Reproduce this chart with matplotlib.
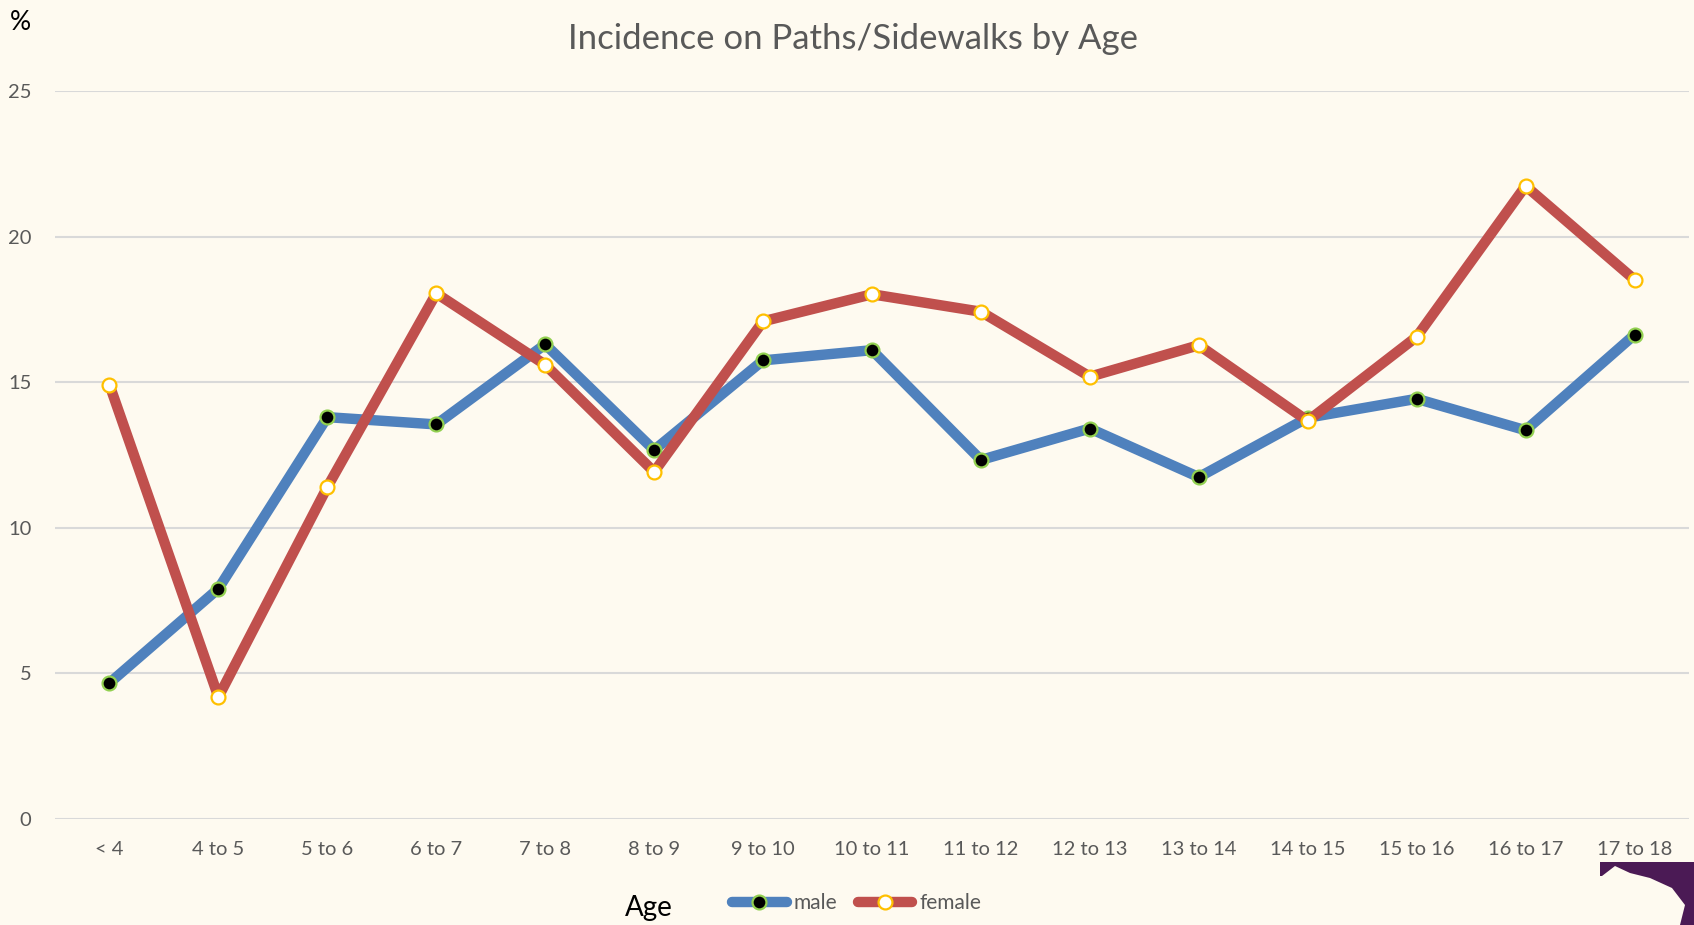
import matplotlib
matplotlib.use("Agg")
import matplotlib.pyplot as plt
from matplotlib.lines import Line2D
from matplotlib.patches import Polygon

categories = ["< 4", "4 to 5", "5 to 6", "6 to 7", "7 to 8", "8 to 9", "9 to 10",
              "10 to 11", "11 to 12", "12 to 13", "13 to 14", "14 to 15",
              "15 to 16", "16 to 17", "17 to 18"]
male = [4.67, 7.91, 13.8, 13.55, 16.3, 12.67, 15.75, 16.1, 12.33, 13.41,
        11.74, 13.78, 14.43, 13.35, 16.63]
female = [14.91, 4.19, 11.4, 18.05, 15.6, 11.92, 17.09, 18.02, 17.42, 15.19,
          16.27, 13.67, 16.56, 21.74, 18.52]
yticks = [0, 5, 10, 15, 20, 25]

BG = "#FEFAF0"
BLUE = "#4F81BD"
RED = "#C0504D"
GRAY = "#595959"
FONT = ["Lato", "DejaVu Sans"]
plt.rcParams["font.family"] = FONT

fig = plt.figure(figsize=(16.94, 9.25), dpi=100, facecolor=BG)
ax = fig.add_axes([55/1694, 1-819/925, (1689-55)/1694, (819-91)/925])
ax.set_facecolor(BG)

x = list(range(len(categories)))
ax.plot(x, male, color=BLUE, lw=7.5, solid_joinstyle="round", solid_capstyle="round", zorder=3,
        marker="o", ms=10, mfc="black", mec="#92D050", mew=1.6)
ax.plot(x, female, color=RED, lw=7.5, solid_joinstyle="round", solid_capstyle="round", zorder=4,
        marker="o", ms=10, mfc="white", mec="#FFC000", mew=1.6)

ax.set_xlim(-0.5, len(categories) - 0.5)
ax.set_ylim(0, 25)
ax.set_yticks(yticks)
ax.set_xticks(x)
ax.set_xticklabels(categories)
ax.grid(axis="y", color="#D9D9D9", lw=1.5, zorder=0)
ax.set_axisbelow(True)
for s in ax.spines.values():
    s.set_visible(False)
ax.tick_params(axis="both", length=0, labelcolor=GRAY, labelsize=14.5)
ax.tick_params(axis="y", pad=17)
ax.tick_params(axis="x", pad=16)

fig.text(853/1694, 1-39/925, "Incidence on Paths/Sidewalks by Age", ha="center",
         va="center", fontsize=25, color=GRAY)
fig.text(10/1694, 1-22/925, "%", ha="left", va="center", fontsize=19, color="black")
fig.text(649/1694, 1-908/925, "Age", ha="center", va="center", fontsize=20, color="black")

handles = [
    Line2D([], [], color=BLUE, lw=7.5, solid_capstyle="round", marker="o", ms=10,
           mfc="black", mec="#92D050", mew=1.6),
    Line2D([], [], color=RED, lw=7.5, solid_capstyle="round", marker="o", ms=10,
           mfc="white", mec="#FFC000", mew=1.6),
]
leg = fig.legend(handles, ["male", "female"], loc="center", bbox_to_anchor=(857/1694, 1-903/925),
                 ncol=2, frameon=False, fontsize=15, handlelength=2.6, handletextpad=0.35,
                 columnspacing=1.0, labelcolor=GRAY)

pts = [(1600, 862), (1694, 862), (1694, 925), (1680, 925), (1685, 905), (1672, 888),
       (1650, 878), (1630, 873), (1615, 866), (1602, 876), (1600, 876)]
poly = Polygon([(px/1694, 1-py/925) for px, py in pts], closed=True,
               transform=fig.transFigure, facecolor="#4B1A55", edgecolor="none")
fig.patches.append(poly)

fig.savefig("out.png", dpi=100, facecolor=BG)
